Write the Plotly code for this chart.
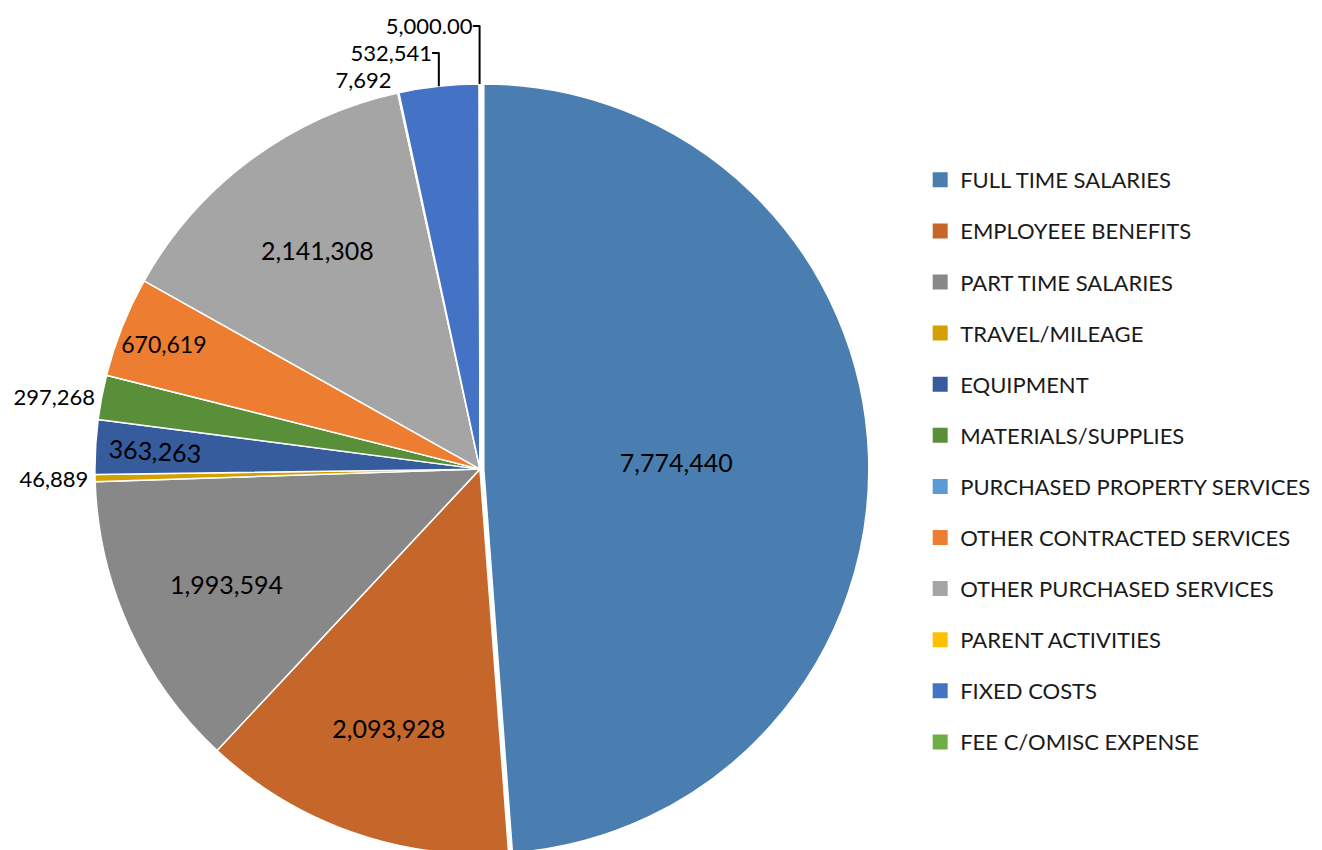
import plotly.graph_objects as go

categories = [
    "FULL TIME SALARIES",
    "EMPLOYEEE BENEFITS",
    "PART TIME SALARIES",
    "TRAVEL/MILEAGE",
    "EQUIPMENT",
    "MATERIALS/SUPPLIES",
    "PURCHASED PROPERTY SERVICES",
    "OTHER CONTRACTED SERVICES",
    "OTHER PURCHASED SERVICES",
    "PARENT ACTIVITIES",
    "FIXED COSTS",
    "FEE C/OMISC EXPENSE",
]
values = [7774440, 2093928, 1993594, 46889, 363263, 297268, 0,
          670619, 2141308, 7692, 532541, 5000]
decimals = [0, 0, 0, 0, 0, 0, 0, 0, 0, 0, 0, 2]
colors = ["#4A7EB0", "#C5672A", "#888888", "#D4A000", "#365C9E", "#5A8F3A",
          "#5B9BD5", "#ED7D31", "#A5A5A5", "#FFC000", "#4472C4", "#70AD47"]

labels_text = [("{:,.%df}" % d).format(v) if v > 0 else "" for v, d in zip(values, decimals)]
share = [v / sum(values) for v in values]
# big slices: horizontal inside labels; the equipment slice: radial inside label; others outside
is_radial = [0.02 < s < 0.03 for s in share]
main_pos = ["inside" if s > 0.04 else ("none" if r else "outside")
            for s, r in zip(share, is_radial)]
radial_text = [t if r else "" for t, r in zip(labels_text, is_radial)]
pulls = [0.01 if i == 0 else 0 for i in range(len(values))]

FONT = "Lato"
DOMAIN = dict(x=[0.0, 0.714], y=[0.0, 0.915])

fig = go.Figure()
fig.add_trace(go.Pie(
    labels=categories,
    values=values,
    text=labels_text,
    textinfo="text",
    textposition=main_pos,
    insidetextorientation="horizontal",
    sort=False,
    direction="clockwise",
    rotation=0,
    pull=pulls,
    marker=dict(colors=colors, line=dict(color="white", width=1.5)),
    insidetextfont=dict(family=FONT, size=25, color="black"),
    outsidetextfont=dict(family=FONT, size=22, color="black"),
    domain=DOMAIN,
    showlegend=False,
    hoverinfo="label+value",
))

# overlay carrying the radially oriented label of the mid-size slice
fig.add_trace(go.Pie(
    labels=categories,
    values=values,
    text=radial_text,
    textinfo="text",
    textposition="inside",
    insidetextorientation="radial",
    sort=False,
    direction="clockwise",
    rotation=0,
    pull=pulls,
    marker=dict(colors=["rgba(0,0,0,0)"] * len(values), line=dict(width=0)),
    insidetextfont=dict(family=FONT, size=25, color="black"),
    domain=DOMAIN,
    showlegend=False,
    hoverinfo="skip",
))

for name, col in zip(categories, colors):
    fig.add_trace(go.Scatter(
        x=[None], y=[None], mode="markers", name=name,
        legendgroup=name,
        marker=dict(symbol="square", size=15, color=col),
    ))

fig.update_layout(
    width=1322, height=850,
    margin=dict(l=0, r=0, t=0, b=0, autoexpand=False),
    paper_bgcolor="white", plot_bgcolor="white",
    xaxis=dict(visible=False), yaxis=dict(visible=False),
    showlegend=True,
    legend=dict(
        x=0.69, y=1 - 151 / 850, xanchor="left", yanchor="top",
        font=dict(family=FONT, size=22, color="#1a1a1a"),
        tracegroupgap=19.5,
        itemclick=False, itemdoubleclick=False,
        bgcolor="rgba(0,0,0,0)",
    ),
    font=dict(family=FONT),
)

fig.write_html("out.html")
